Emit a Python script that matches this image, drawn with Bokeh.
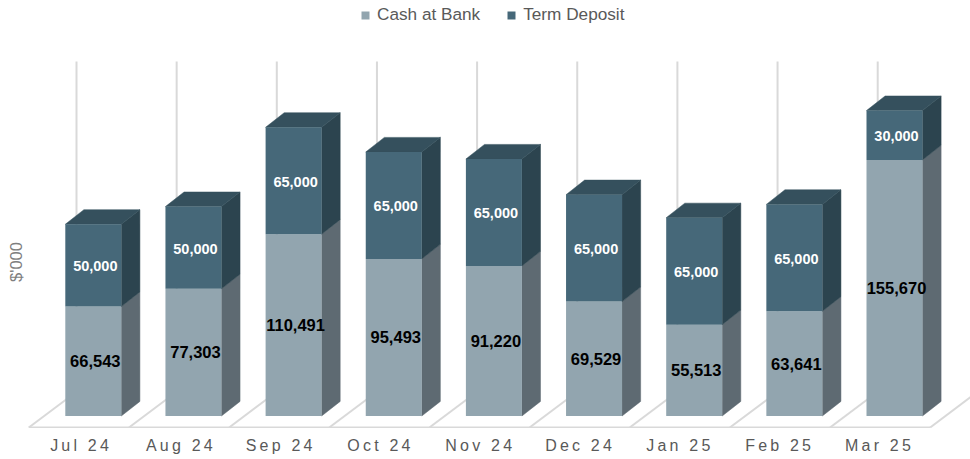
import math
import numpy as np
from bokeh.embed import file_html
from bokeh.resources import INLINE
from bokeh.plotting import figure
from bokeh.layouts import column
from bokeh.models import Range1d, Legend, LegendItem, Label, FixedTicker, LinearAxis
from bokeh.core.properties import value

months = ["Jul 24", "Aug 24", "Sep 24", "Oct 24", "Nov 24", "Dec 24", "Jan 25", "Feb 25", "Mar 25"]
cash = [66543, 77303, 110491, 95493, 91220, 69529, 55513, 63641, 155670]
term = [50000, 50000, 65000, 65000, 65000, 65000, 65000, 65000, 30000]

FONT = "Liberation Sans"
C_LIGHT, C_LIGHT_SIDE = "#92a5af", "#5e6a72"
C_DARK, C_DARK_SIDE, C_DARK_TOP = "#466879", "#2c444f", "#35505d"
GRID = "#d9d9d9"

W, H_MAIN, H_AXIS = 970, 428, 31
PX_X = 100.15      # px per category
PX_Y = 0.001645    # px per value unit
X0, Y0 = 92.8, 415.5
xr = (-X0 / PX_X, (W - X0) / PX_X)
yr = ((Y0 - H_MAIN) / PX_Y, Y0 / PX_Y)
BW = 56 / PX_X
DX, DY = 18.6 / PX_X, 14.6 / PX_Y
FX, FY = 48 / PX_X, 36 / PX_Y        # floor depth
FLOOR_Y = (Y0 - 427) / PX_Y
GRID_TOP = (Y0 - 61) / PX_Y

p = figure(width=W, height=H_MAIN, x_range=Range1d(*xr), y_range=Range1d(*yr),
           output_backend="svg", toolbar_location=None, x_axis_location=None, y_axis_location=None,
           min_border=0, outline_line_color=None)
p.grid.visible = False

x = np.arange(len(months), dtype=float)
cash_a, term_a = np.array(cash, float), np.array(term, float)
top = cash_a + term_a

# back grid and floor
floor_left = x - 64.5 / PX_X
p.segment(x - 16.8 / PX_X, FLOOR_Y + FY, x - 16.8 / PX_X, GRID_TOP, line_color=GRID, line_width=2)
edges = np.append(floor_left, floor_left[-1] + 1)
p.segment(edges, FLOOR_Y, edges + FX, FLOOR_Y + FY, line_color=GRID, line_width=2)
p.segment(edges[0], FLOOR_Y, edges[-1], FLOOR_Y, line_color=GRID, line_width=2)

R = x + BW / 2
def side(lo, hi):
    return ([[r, r + DX, r + DX, r] for r in R],
            [[a, a + DY, b + DY, b] for a, b in zip(lo, hi)])
xs, ys = side(np.zeros_like(cash_a), cash_a)
p.patches(xs, ys, fill_color=C_LIGHT_SIDE, line_color=C_LIGHT_SIDE, line_width=0.5)
xs, ys = side(cash_a, top)
p.patches(xs, ys, fill_color=C_DARK_SIDE, line_color=C_DARK_SIDE, line_width=0.5)
p.patches([[r - BW, r, r + DX, r - BW + DX] for r in R],
          [[t, t, t + DY, t + DY] for t in top],
          fill_color=C_DARK_TOP, line_color=C_DARK_TOP, line_width=0.5)
r_cash = p.vbar(x=x, width=BW, bottom=0, top=cash_a, fill_color=C_LIGHT, line_color=None)
r_term = p.vbar(x=x, width=BW, bottom=cash_a, top=top, fill_color=C_DARK, line_color=None)

p.text(x, cash_a / 2, text=[f"{v:,}" for v in cash], text_align="center", text_baseline="middle",
       x_offset=2, text_color="#000000", text_font=value(FONT), text_font_style="bold", text_font_size="16.5px")
p.text(x, cash_a + term_a / 2, text=[f"{v:,}" for v in term], text_align="center", text_baseline="middle",
       x_offset=2, y_offset=1, text_color="#ffffff", text_font=value(FONT), text_font_style="bold", text_font_size="14.5px")

p.add_layout(Label(x=(15 - X0) / PX_X, y=(Y0 - 261.5) / PX_Y, text="$'000", angle=math.pi / 2,
                   text_align="center", text_baseline="middle", text_color="#7f7f7f",
                   text_font=FONT, text_font_size="16.5px"))

legend = Legend(items=[LegendItem(label="Cash at Bank", renderers=[r_cash]),
                       LegendItem(label="Term Deposit", renderers=[r_term])],
                orientation="horizontal", location=(360, H_MAIN - 25), glyph_width=10, glyph_height=10,
                label_standoff=7, spacing=26, padding=0, margin=0, border_line_color=None,
                background_fill_alpha=0, label_text_font=FONT, label_text_font_size="17.2px",
                label_text_color="#595959", label_height=18)
p.add_layout(legend)

# month labels live in a strip whose text has wider letter spacing; their pitch differs slightly from the bars'
TICK0, TICK_PX = 71.0, 99.8
a = figure(width=W, height=H_AXIS, x_range=Range1d(-TICK0 / TICK_PX, (W - TICK0) / TICK_PX), y_range=Range1d(0, 1),
           output_backend="svg", toolbar_location=None, x_axis_location=None, y_axis_location=None,
           min_border=0, min_border_bottom=30, outline_line_color=None)
a.grid.visible = False
ax = LinearAxis(ticker=FixedTicker(ticks=list(range(len(months)))),
                major_label_overrides={i: m for i, m in enumerate(months)},
                axis_line_color=None, major_tick_line_color=None, minor_tick_line_color=None,
                major_label_standoff=1, major_label_text_color="#595959",
                major_label_text_font=FONT, major_label_text_font_size="16px")
a.add_layout(ax, "below")
a.styles = {"letter-spacing": "3.2px"}

page = column(p, a, spacing=0)
open("out.html", "w").write(file_html(page, INLINE))
